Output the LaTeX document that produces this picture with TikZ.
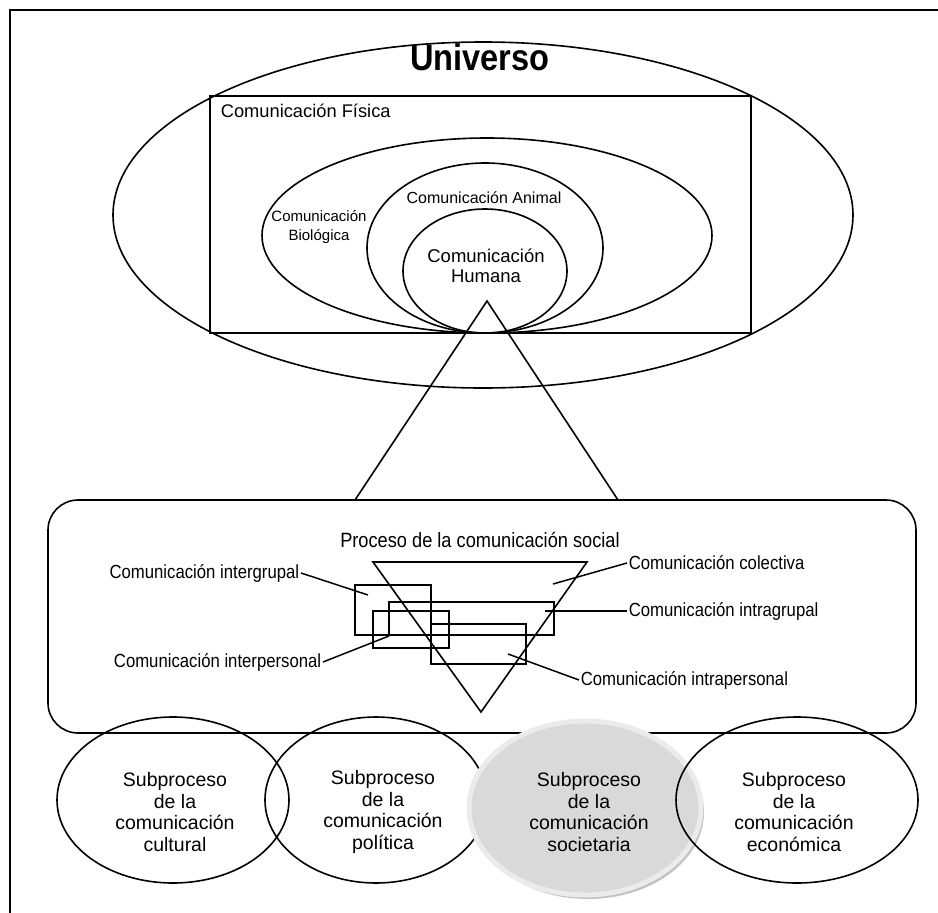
\documentclass[tikz,border=0pt]{standalone}
\usepackage{fontspec}
\setmainfont{Liberation Sans}
\newfontfamily\narrowfont[FakeStretch=0.88]{Liberation Sans}
\newfontfamily\headfont[FakeStretch=0.88]{Liberation Sans}
\begin{document}
\begin{tikzpicture}[x=1pt,y=-1pt,line width=1.6pt,
  txt/.style={inner sep=1pt,align=center},
  midlbl/.style={inner sep=1pt,font=\narrowfont\fontsize{19}{21}\selectfont},
  sublbl/.style={inner sep=0pt,align=center,font=\fontsize{19.5}{21.5}\selectfont},
  leader/.style={line width=1.5pt},
  box/.style={line width=1.6pt}]
\useasboundingbox (0,0) rectangle (938,913);

% frame
\draw[line width=2pt] (938,10) -- (10,10) -- (10,913);

% universe and nested fields of communication
\draw (483,215) ellipse [x radius=370pt, y radius=173pt];
\node[txt,font=\headfont\bfseries\fontsize{37}{40}\selectfont] (univ) at (480,57) {Universo};
\draw[box] (210,96) rectangle (751,333);
\node[txt,anchor=west,font=\fontsize{18.3}{21}\selectfont] (fisica) at (219,111) {Comunicación Física};
\draw (487,235.5) ellipse [x radius=225pt, y radius=97.5pt];
\draw (485,248) ellipse [x radius=118pt, y radius=85pt];
\draw (485,271) ellipse [x radius=82pt, y radius=62pt];
\node[txt,font=\fontsize{15}{19.3}\selectfont] (bio) at (319,227) {Comunicación\\Biológica};
\node[txt,font=\fontsize{16}{19}\selectfont] (animal) at (484,198) {Comunicación Animal};
\node[txt,font=\fontsize{18.5}{19.5}\selectfont] (humana) at (486,266) {Comunicación\\Humana};

% cone down to the social process
\coordinate (apex) at (487,301);
\coordinate (cl) at (355,500);
\coordinate (cr) at (618,500);
\draw (cl) -- (apex) -- (cr);

% social process
\draw[rounded corners=30pt] (48,500) rectangle (916,733);
\node[txt,font=\narrowfont\fontsize{20.7}{23}\selectfont] (proc) at (480,540) {Proceso de la comunicación social};
\draw (373,562) -- (587,562) -- (481,712) -- cycle;
\draw[box] (355,585) rectangle (431,635);
\draw[box] (389,602) rectangle (554,635);
\draw[box] (373,611) rectangle (449,648);
\draw[box] (431,624) rectangle (526,664);

\node[midlbl,anchor=west] (lcol) at (627,563) {Comunicación colectiva};
\node[midlbl,anchor=east] (lier) at (301,573) {Comunicación intergrupal};
\node[midlbl,anchor=west] (lira) at (627,611) {Comunicación intragrupal};
\node[midlbl,anchor=east] (liep) at (323,662) {Comunicación interpersonal};
\node[midlbl,anchor=west] (liap) at (579,680) {Comunicación intrapersonal};

\coordinate (pcol) at (553,584);
\coordinate (pier) at (368,595);
\coordinate (pira) at (545,611);
\coordinate (piep) at (389,636);
\coordinate (piap) at (508,654);
\draw[leader] (lcol.west) -- (pcol);
\draw[leader] (lier.east) -- (pier);
\draw[leader] (pira) -- (lira.west);
\draw[leader] (piep) -- (liep.east);
\draw[leader] (piap) -- (liap.west);

% subprocesses
\draw (173,800) ellipse [x radius=116pt, y radius=83pt];
\draw (376,800) ellipse [x radius=111pt, y radius=83pt];
\fill[black!24] (588,812) ellipse [x radius=116pt, y radius=87pt];
\draw[fill=black!15,draw=black!8,line width=5pt] (585,808) ellipse [x radius=116pt, y radius=87pt];
\draw (797,800) ellipse [x radius=121pt, y radius=83pt];

\node[sublbl] (scul) at (175,812) {Subproceso\\de la\\comunicación\\cultural};
\node[sublbl] (spol) at (383,812) {Subproceso\\de la\\comunicación\\política};
\node[sublbl] (ssoc) at (589,812) {Subproceso\\de la\\comunicación\\societaria};
\node[sublbl] (seco) at (794,812) {Subproceso\\de la\\comunicación\\económica};
\end{tikzpicture}
\end{document}
